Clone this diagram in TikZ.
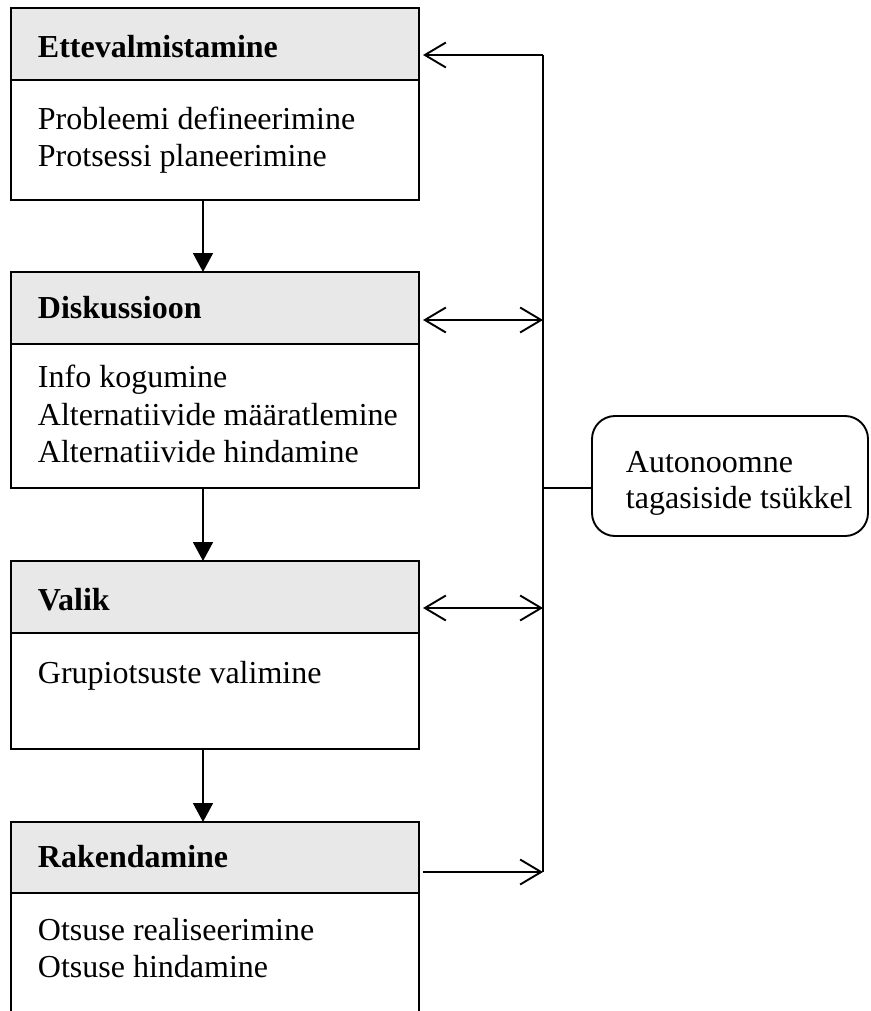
\documentclass[tikz,border=0pt]{standalone}
\usepackage{fontspec}
\setmainfont{Liberation Serif}
\usetikzlibrary{arrows.meta}
\definecolor{hdrgray}{RGB}{232,232,232}
\begin{document}
\begin{tikzpicture}[x=1pt,y=-1pt,line width=1.9pt,
  boxpart/.style={draw,anchor=north west,minimum width=408pt,inner sep=0pt,outer sep=0pt},
  hdr/.style={boxpart,fill=hdrgray,minimum height=72pt},
  txt/.style={anchor=base west,inner sep=0pt,font=\fontsize{32}{37}\selectfont},
  htxt/.style={txt,font=\fontsize{32}{37}\selectfont\bfseries},
  oarrow/.style={-{Straight Barb[length=21pt,width=25pt,line width=1.9pt]}},
  darrow/.style={{Straight Barb[length=21pt,width=25pt,line width=1.9pt]}-{Straight Barb[length=21pt,width=25pt,line width=1.9pt]}},
  farrow/.style={-{Triangle[length=19pt,width=20pt]}}
]
\useasboundingbox (0,0) rectangle (870,1011);
\clip (0,0) rectangle (870,1011);
\fill[white] (0,0) rectangle (870,1011);

% boxes
\node[hdr] (h1) at (11,8) {};
\node[boxpart,minimum height=120pt] (b1) at (11,80) {};
\node[hdr] (h2) at (11,272) {};
\node[boxpart,minimum height=144pt] (b2) at (11,344) {};
\node[hdr] (h3) at (11,561) {};
\node[boxpart,minimum height=116pt] (b3) at (11,633) {};
\node[hdr,minimum height=71pt] (h4) at (11,822) {};
\node[boxpart,minimum height=150pt] (b4) at (11,893) {};

% texts
\node[htxt] (t1) at (37,58) {Ettevalmistamine};
\node[txt] (t1a) at (37,130) {Probleemi defineerimine};
\node[txt] (t1b) at (37,167) {Protsessi planeerimine};
\node[htxt] (t2) at (37,318) {Diskussioon};
\node[txt] (t2a) at (37,387) {Info kogumine};
\node[txt] (t2b) at (37,425) {Alternatiivide määratlemine};
\node[txt] (t2c) at (37,462) {Alternatiivide hindamine};
\node[htxt] (t3) at (37,610) {Valik};
\node[txt] (t3a) at (37,683) {Grupiotsuste valimine};
\node[htxt] (t4) at (37,867) {Rakendamine};
\node[txt] (t4a) at (37,940) {Otsuse realiseerimine};
\node[txt] (t4b) at (37,977) {Otsuse hindamine};

% feedback box
\node[draw,rounded corners=23pt,anchor=north west,minimum width=276pt,minimum height=120pt,inner sep=0pt,outer sep=0pt] (auto) at (592,416) {};
\node[txt] (ta) at (625,472) {Autonoomne};
\node[txt] (tb) at (625,508) {tagasiside tsükkel};

% down arrows
\draw[farrow] ([xshift=192pt]b1.south west) -- ([xshift=192pt]h2.north west);
\draw[farrow] ([xshift=192pt]b2.south west) -- ([xshift=192pt]h3.north west);
\draw[farrow] ([xshift=192pt]b3.south west) -- ([xshift=192pt]h4.north west);

% feedback loop
\coordinate (f1) at (543,55);
\coordinate (f2) at (543,320);
\coordinate (f3) at (543,608);
\coordinate (f4) at (543,872);
\coordinate (fm) at (543,488);
\draw (f1) -- (f4);
\draw[oarrow] (f1) -- ([xshift=4pt]h1.east |- f1);
\draw[darrow] ([xshift=4pt]h2.east |- f2) -- (f2);
\draw[darrow] ([xshift=4pt]h3.east |- f3) -- (f3);
\draw[oarrow] ([xshift=4pt]h4.east |- f4) -- (f4);
\draw (fm) -- (auto.west |- fm);
\end{tikzpicture}
\end{document}
